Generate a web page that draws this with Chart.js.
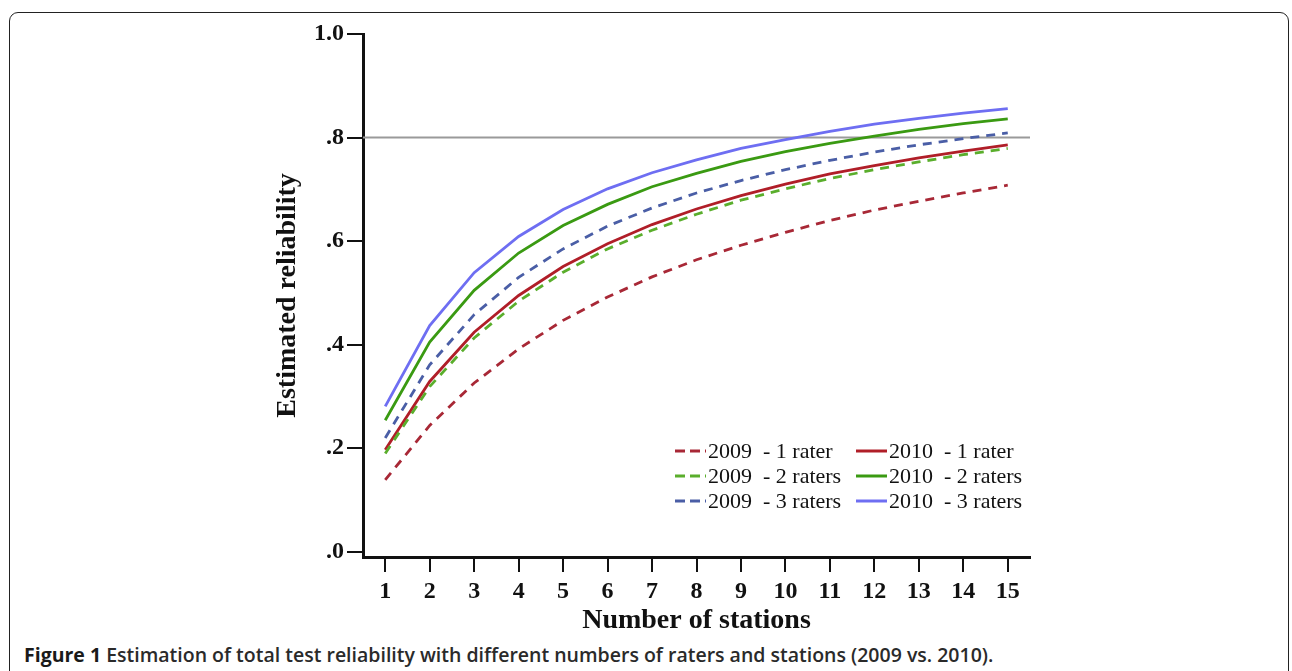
<!DOCTYPE html>
<html>
<head>
<meta charset="utf-8">
<script src="https://cdn.jsdelivr.net/npm/chart.js@4/dist/chart.umd.min.js"></script>
<style>
  html, body { margin: 0; padding: 0; background: #fff; }
  #wrap { position: relative; width: 1292px; height: 671px; overflow: hidden; }
  #frame {
    position: absolute; left: 9px; top: 12px; width: 1280px; height: 700px;
    border: 1.5px solid #222; border-radius: 9px; box-sizing: border-box;
  }
  #chart-box { position: absolute; left: 0; top: 0; width: 1292px; height: 640px; }
  #caption {
    position: absolute; left: 24px; top: 641px;
    font-family: "Open Sans", sans-serif; font-size: 19.5px; font-weight: 600; color: #2a2a2a;
    white-space: nowrap; line-height: 27px;
  }
  #caption b { font-weight: 700; color: #1a1a1a; }
</style>
</head>
<body>
<div id="wrap">
  <div id="frame"></div>
  <div id="chart-box"><canvas id="reliability"></canvas></div>
  <div id="caption"><b>Figure 1</b> Estimation of total test reliability with different numbers of raters and stations (2009 vs. 2010).</div>
</div>

<script>
// Number of stations (x axis)
const stations = [1, 2, 3, 4, 5, 6, 7, 8, 9, 10, 11, 12, 13, 14, 15];

// Estimated reliability
const rel2009r1 = [0.139, 0.244, 0.326, 0.392, 0.447, 0.492, 0.531, 0.564, 0.592, 0.617, 0.640, 0.660, 0.677, 0.693, 0.708];
const rel2009r2 = [0.190, 0.319, 0.413, 0.484, 0.540, 0.585, 0.621, 0.652, 0.679, 0.701, 0.721, 0.738, 0.753, 0.767, 0.779];
const rel2009r3 = [0.220, 0.361, 0.458, 0.530, 0.585, 0.629, 0.664, 0.693, 0.717, 0.738, 0.756, 0.772, 0.786, 0.798, 0.809];
const rel2010r1 = [0.197, 0.329, 0.424, 0.495, 0.551, 0.595, 0.632, 0.662, 0.688, 0.710, 0.730, 0.746, 0.761, 0.774, 0.786];
const rel2010r2 = [0.254, 0.405, 0.505, 0.577, 0.630, 0.671, 0.705, 0.731, 0.754, 0.773, 0.789, 0.803, 0.816, 0.827, 0.836];
const rel2010r3 = [0.281, 0.437, 0.539, 0.609, 0.661, 0.701, 0.732, 0.757, 0.779, 0.796, 0.812, 0.826, 0.837, 0.847, 0.856];

// Tick labels
const yTicks = [0, 0.2, 0.4, 0.6, 0.8, 1.0];
const yTickLabels = ['.0', '.2', '.4', '.6', '.8', '1.0'];

// Target reliability (grey reference line)
const targetReliability = 0.8;

const serif = '"Liberation Serif", "Times New Roman", serif';

function series(label, values, color, dashed) {
    return {
        label: label,
        data: stations.map((s, i) => ({ x: s, y: values[i] })),
        borderColor: color,
        backgroundColor: color,
        borderWidth: 2.8,
        borderDash: dashed ? [9, 7] : [],
        pointRadius: 0,
        tension: 0,
        fill: false,
    };
}

// Grey horizontal line at the target value
const referenceLine = {
    id: 'referenceLine',
    beforeDatasetsDraw(chart) {
        const { ctx, chartArea, scales } = chart;
        const y = scales.y.getPixelForValue(targetReliability);
        ctx.save();
        ctx.strokeStyle = '#9a9a9a';
        ctx.lineWidth = 2;
        ctx.beginPath();
        ctx.moveTo(chartArea.left, y);
        ctx.lineTo(chartArea.right, y);
        ctx.stroke();
        ctx.restore();
    }
};

// Two-column legend inside the plot, lower right
const gridLegend = {
    id: 'gridLegend',
    afterDatasetsDraw(chart) {
        const { ctx, chartArea } = chart;
        const sets = chart.data.datasets;
        const colX = [chartArea.right - 355, chartArea.right - 174];
        const rowY = [chartArea.bottom - 106, chartArea.bottom - 81, chartArea.bottom - 56];
        ctx.save();
        ctx.font = '22px ' + serif;
        ctx.textBaseline = 'middle';
        ctx.fillStyle = '#111';
        sets.forEach((ds, i) => {
            const col = i < 3 ? 0 : 1;
            const row = i % 3;
            const x = colX[col];
            const y = rowY[row];
            ctx.strokeStyle = ds.borderColor;
            ctx.lineWidth = 3;
            ctx.setLineDash(ds.borderDash.length ? [10, 5] : []);
            ctx.beginPath();
            ctx.moveTo(x, y);
            ctx.lineTo(x + 31, y);
            ctx.stroke();
            ctx.setLineDash([]);
            ctx.fillText(ds.label, x + 33, y + 1);
        });
        ctx.restore();
    }
};

const ctx = document.getElementById('reliability').getContext('2d');
window.myLine = new Chart(ctx, {
    type: 'line',
    data: {
        datasets: [
            series('2009  - 1 rater', rel2009r1, '#a82836', true),
            series('2009  - 2 raters', rel2009r2, '#5aae2c', true),
            series('2009  - 3 raters', rel2009r3, '#4a5ea6', true),
            series('2010  - 1 rater', rel2010r1, '#b01e28', false),
            series('2010  - 2 raters', rel2010r2, '#3a9a12', false),
            series('2010  - 3 raters', rel2010r3, '#6e6ef2', false),
        ]
    },
    options: {
        responsive: true,
        maintainAspectRatio: false,
        animation: false,
        layout: {
            padding: { left: 271, right: 262, top: 34, bottom: 0 }
        },
        plugins: {
            legend: { display: false },
            tooltip: { enabled: false }
        },
        scales: {
            x: {
                type: 'linear',
                min: 0.5,
                max: 15.5,
                afterBuildTicks: (scale) => {
                    scale.ticks = stations.map(v => ({ value: v }));
                },
                afterFit: (scale) => { scale.height = 83; },
                border: { display: true, color: '#111', width: 3 },
                grid: {
                    display: true,
                    drawOnChartArea: false,
                    drawTicks: true,
                    tickLength: 15,
                    color: '#111',
                    lineWidth: 2
                },
                ticks: {
                    color: '#111',
                    padding: 5,
                    maxRotation: 0,
                    font: { size: 24, weight: 'bold', family: serif }
                },
                title: {
                    display: true,
                    text: 'Number of stations',
                    color: '#111',
                    padding: { top: 0, bottom: 2 },
                    font: { size: 28, weight: 'bold', family: serif }
                }
            },
            y: {
                min: -0.01,
                max: 1.0,
                afterBuildTicks: (scale) => {
                    scale.ticks = yTicks.map(v => ({ value: v }));
                },
                afterFit: (scale) => { scale.width = 92; },
                border: { display: true, color: '#111', width: 3 },
                grid: {
                    display: true,
                    drawOnChartArea: false,
                    drawTicks: true,
                    tickLength: 16,
                    color: '#111',
                    lineWidth: 2
                },
                ticks: {
                    color: '#111',
                    padding: 3,
                    callback: (value) => {
                        const idx = yTicks.findIndex(t => Math.abs(t - value) < 1e-6);
                        return idx >= 0 ? yTickLabels[idx] : '';
                    },
                    font: { size: 24, weight: 'bold', family: serif }
                },
                title: {
                    display: true,
                    text: 'Estimated reliability',
                    color: '#111',
                    padding: { top: 0, bottom: 0 },
                    font: { size: 28, weight: 'bold', family: serif }
                }
            }
        }
    },
    plugins: [referenceLine, gridLegend]
});
</script>
</body>
</html>
